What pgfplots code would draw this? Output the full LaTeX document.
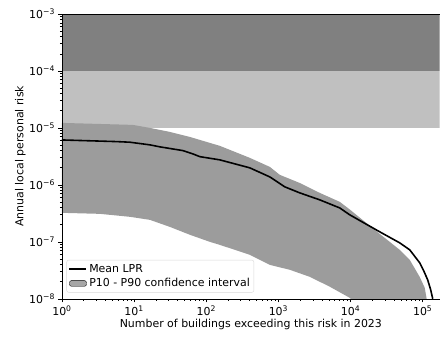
\documentclass[border=0pt]{standalone}
\usepackage{pgfplots}
\pgfplotsset{compat=1.18}
\usepackage{fontspec}
\setmainfont{DejaVu Sans}
\definecolor{darkband}{HTML}{808080}
\definecolor{lightband}{HTML}{C0C0C0}
\definecolor{ciband}{HTML}{9C9C9C}
\begin{document}
\begin{tikzpicture}[x=1bp,y=1bp]
\begin{axis}[
  scale only axis,
  width=378bp, height=285bp,
  xmode=log, ymode=log,
  log basis x=10, log basis y=10,
  xmin=1, xmax=1.72e5,
  ymin=1e-8, ymax=1e-3,
  axis y line*=left,
  tick align=outside,
  tick pos=left,
  major tick length=3.5bp,
  minor tick length=2bp,
  tick style={black, line width=0.6pt},
  axis line style={line width=0.6pt},
  xtick={1,10,100,1000,10000,100000},
  minor xtick={2,3,4,5,6,7,8,9,20,30,40,50,60,70,80,90,200,300,400,500,600,700,800,900,2000,3000,4000,5000,6000,7000,8000,9000,20000,30000,40000,50000,60000,70000,80000,90000,200000},
  ytick={1e-8,1e-7,1e-6,1e-5,1e-4,1e-3},
  minor ytick={2e-8,3e-8,4e-8,5e-8,6e-8,7e-8,8e-8,9e-8,2e-7,3e-7,4e-7,5e-7,6e-7,7e-7,8e-7,9e-7,2e-6,3e-6,4e-6,5e-6,6e-6,7e-6,8e-6,9e-6,2e-5,3e-5,4e-5,5e-5,6e-5,7e-5,8e-5,9e-5,2e-4,3e-4,4e-4,5e-4,6e-4,7e-4,8e-4,9e-4},
  xticklabel={10\textsuperscript{\pgfmathprintnumber[fixed,precision=0,assume math mode=true]{\tick}}},
  yticklabel={10\textsuperscript{−\pgfmathparse{-\tick}\pgfmathprintnumber[fixed,precision=0,assume math mode=true]{\pgfmathresult}}},
  tick label style={font=\fontsize{11}{13}\selectfont},
  xlabel={Number of buildings exceeding this risk in 2023},
  ylabel={Annual local personal risk},
  label style={font=\fontsize{11}{13}\selectfont},
  xlabel style={yshift=3bp},
  ylabel style={at={(axis description cs:-0.11,0.5)}, anchor=center, rotate=0},
  legend style={font=\fontsize{11}{13}\selectfont, draw=black!15, rounded corners=2pt, fill=white, fill opacity=0.9, text opacity=1, inner sep=2pt, row sep=1pt, at={(0.012,0.022)}, anchor=south west},
  legend cell align=left,
  clip=true,
  axis on top,
]
% background risk bands
\addplot[draw=none, fill=darkband, forget plot] coordinates {(1,1e-4) (1e6,1e-4) (1e6,1e-3) (1,1e-3)} -- cycle;
\addplot[draw=none, fill=lightband, forget plot] coordinates {(1,1e-5) (1e6,1e-5) (1e6,1e-4) (1,1e-4)} -- cycle;
\addlegendimage{black, line width=1.6pt}
\addlegendentry{Mean LPR}
% P10-P90 band
\addplot[draw=none, fill=ciband, area legend] coordinates {
 (1,1.225e-5) (9.6,1.13e-5) (16.6,1.0e-5) (31.3,8.51e-6) (59.3,6.95e-6)
 (112,5.46e-6) (154,4.85e-6) (402,2.98e-6) (760,2.07e-6) (1045,1.50e-6)
 (1977,1.08e-6) (3741,7.24e-7) (7079,5.04e-7) (9750,3.7e-7) (25350,1.38e-7)
 (47970,7.24e-8) (66070,4.83e-8) (90780,2.43e-8) (106700,1.56e-8) (113500,1e-8)
 (10070,1e-8) (9750,1.04e-8) (5152,1.63e-8) (2723,2.43e-8) (1439,3.23e-8)
 (760,3.94e-8) (402,5.92e-8) (154,8.85e-8) (112,1.0e-7) (59.3,1.33e-7)
 (31.3,1.83e-7) (16.6,2.43e-7) (8.75,2.75e-7) (3.36,3.10e-7) (1,3.23e-7)
} -- cycle;
\addlegendentry{P10 - P90 confidence interval}
\addplot[black, line width=1.6pt, line join=round, forget plot] coordinates {
 (1,6.15e-6) (5.78,5.75e-6) (8.75,5.61e-6) (16.6,5.04e-6) (22.8,4.65e-6)
 (47.4,4.00e-6) (65.2,3.50e-6) (81.5,3.13e-6) (154,2.75e-6) (402,1.99e-6)
 (760,1.38e-6) (1227,9.23e-7) (1977,7.24e-7) (3741,5.46e-7) (7079,3.94e-7)
 (9750,2.98e-7) (25350,1.50e-7) (47970,9.6e-8) (66070,7.24e-8) (90780,4.29e-8)
 (103300,3.10e-8) (117200,2.15e-8) (129000,1.44e-8) (137700,1.0e-8)
};
\end{axis}
\path (-62bp,299bp) (-62bp,-40bp);
\end{tikzpicture}
\end{document}
